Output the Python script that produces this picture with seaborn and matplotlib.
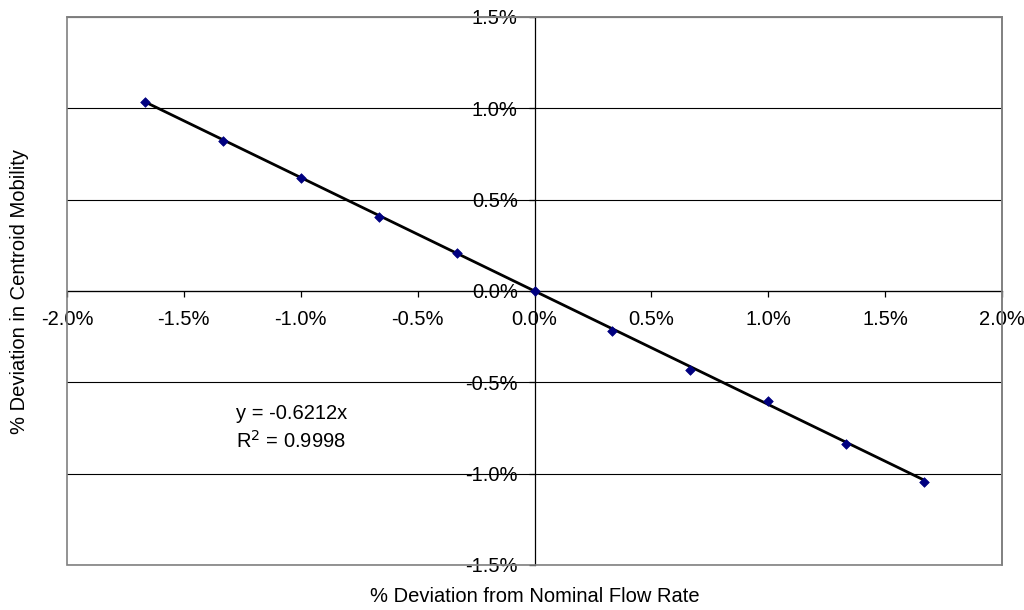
import matplotlib
matplotlib.use("Agg")
import matplotlib.pyplot as plt
import matplotlib.ticker as mticker
from matplotlib.patches import Rectangle
import seaborn as sns
import pandas as pd

# Data (percent units)
flow_dev = [-1.667, -1.333, -1.0, -0.667, -0.333, 0.0, 0.333, 0.667, 1.0, 1.333, 1.667]
mobility_dev = [1.036, 0.819, 0.621, 0.407, 0.209, 0.0, -0.218, -0.431, -0.603, -0.835, -1.048]
slope = -0.6212
r2 = 0.9998
x_ticks = [-2.0, -1.5, -1.0, -0.5, 0.0, 0.5, 1.0, 1.5, 2.0]
y_ticks = [-1.5, -1.0, -0.5, 0.0, 0.5, 1.0, 1.5]

sns.set_theme(style="white")
plt.rcParams['font.family'] = ['Liberation Sans', 'DejaVu Sans']

df = pd.DataFrame({"x": flow_dev, "y": mobility_dev})
trend = pd.DataFrame({"x": [min(flow_dev), max(flow_dev)]})
trend["y"] = slope * trend["x"]

FS = 14.5

fig = plt.figure(figsize=(10.24, 6.10), dpi=100)
ax = fig.add_axes([67/1024, 1 - 565/610, 935/1024, 548/610])

ax.set_xlim(-2.0, 2.0)
ax.set_ylim(-1.5, 1.5)
ax.set_xticks(x_ticks)
ax.set_yticks(y_ticks)
fmt = mticker.FuncFormatter(lambda v, p: f"{v:.1f}%")
ax.xaxis.set_major_formatter(fmt)
ax.yaxis.set_major_formatter(fmt)

# horizontal gridlines
ax.yaxis.grid(True, color="black", linewidth=0.8)
ax.xaxis.grid(False)
ax.set_axisbelow(True)

sns.lineplot(data=trend, x="x", y="y", ax=ax, color="black", linewidth=2.0, zorder=3)
sns.scatterplot(data=df, x="x", y="y", ax=ax, marker="D", s=24, color="#000080",
                edgecolor="#000080", linewidth=0.5, zorder=4)

# axes crossing at zero
ax.spines['left'].set_position('zero')
ax.spines['bottom'].set_position('zero')
for s in ['left', 'bottom']:
    ax.spines[s].set_color("black")
    ax.spines[s].set_linewidth(0.9)
for s in ['top', 'right']:
    ax.spines[s].set_color("#808080")
    ax.spines[s].set_linewidth(1.2)
ax.add_patch(Rectangle((0, 0), 1, 1, transform=ax.transAxes, fill=False,
                       edgecolor="#808080", linewidth=1.2, zorder=5, clip_on=False))

ax.tick_params(axis='both', which='major', direction='out', length=4, width=0.9,
               color="black", labelsize=FS, labelcolor="black")
ax.tick_params(axis='x', pad=10, bottom=True)
ax.tick_params(axis='y', pad=8, left=True)

ax.set_xlabel("% Deviation from Nominal Flow Rate", fontsize=FS, color="black")
ax.set_ylabel("% Deviation in Centroid Mobility", fontsize=FS, color="black")
ax.xaxis.set_label_coords(0.5, (565 - 596) / 548)
ax.xaxis.label.set_va("center")
ax.yaxis.set_label_coords((20 - 67) / 935, 0.5)
ax.yaxis.label.set_va("center")

ax.text(-1.04, -0.670, f"y = {slope}x", ha="center", va="center", fontsize=FS, color="black")
ax.text(-1.04, -0.819, f"R$^2$ = {r2}", ha="center", va="center", fontsize=FS, color="black")

fig.savefig("out.png", dpi=100)
